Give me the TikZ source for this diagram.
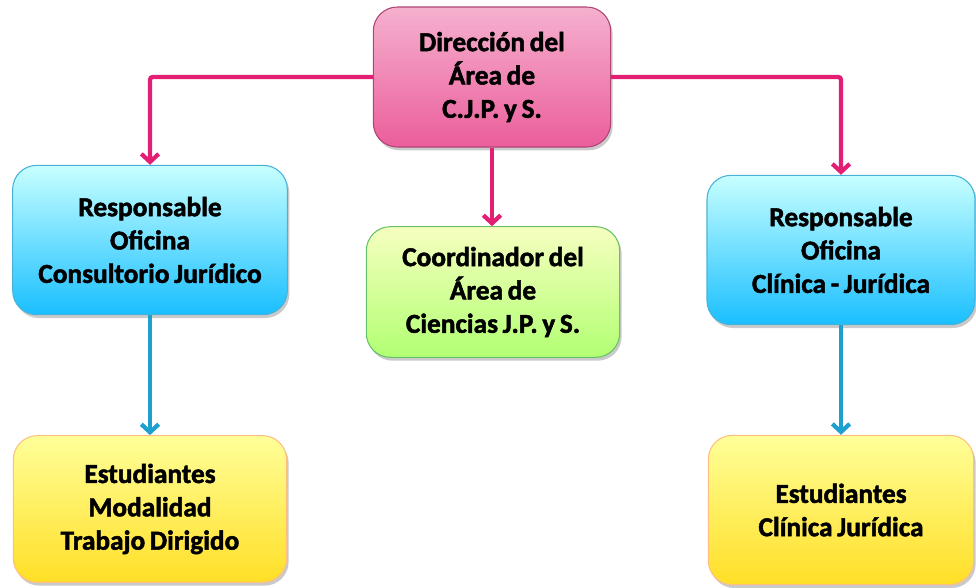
\documentclass[tikz,border=0pt]{standalone}
\usepackage{fontspec}
\setmainfont{Carlito}[BoldFeatures={FakeBold=1.8}]
\usepackage{tikz}
\usetikzlibrary{arrows.meta,shadows,calc}

\definecolor{rosa}{HTML}{E31F74}
\definecolor{celeste}{HTML}{1D9FD0}
\newcommand{\fuentecaja}{\fontsize{20.5}{25}\selectfont\bfseries\spaceskip=0.17em plus 0.05em\relax}

\tikzset{
  caja/.style={rectangle, rounded corners=18pt, align=center, line width=0.8pt,
    font=\fuentecaja,
    drop shadow={shadow xshift=1.5pt, shadow yshift=-2.5pt, opacity=.35, fill=black!60}},
  cajarosa/.style={caja, draw=rosa!70!black!80, top color=rosa!35, bottom color=rosa!72},
  cajaceleste/.style={caja, draw=celeste!80, top color=cyan!22, bottom color=cyan!72!blue!90},
  cajaverde/.style={caja, draw=green!60!black!60, top color=green!15!yellow!25, bottom color=green!55!yellow!55},
  cajaamarilla/.style={caja, draw=orange!50, top color=yellow!40, bottom color=yellow!70!orange!85},
  flecharosa/.style={draw=rosa, line width=3.2pt, -{Straight Barb[length=6pt,width=13pt]}},
  flechaceleste/.style={draw=celeste, line width=3.2pt, -{Straight Barb[length=6pt,width=13pt]}}
}

\begin{document}
\begin{tikzpicture}[x=0.75pt,y=-0.75pt]
\useasboundingbox (0,0) rectangle (976,587);

\node[cajarosa, minimum width=178pt, minimum height=105pt] (dir) at (492,77)
  {Dirección del\\ Área de\\ C.J.P. y S.};
\node[cajaceleste, minimum width=206pt, minimum height=112pt] (resp1) at (150,240)
  {Responsable\\ Oficina\\ Consultorio Jurídico};
\node[cajaverde, minimum width=190pt, minimum height=98pt] (coord) at (493,292)
  {Coordinador del\\ Área de\\ Ciencias J.P. y S.};
\node[cajaceleste, minimum width=201pt, minimum height=112pt] (resp2) at (841,250)
  {Responsable\\ Oficina\\ Clínica - Jurídica};
\node[cajaamarilla, minimum width=205pt, minimum height=110pt] (est1) at (150,509)
  {Estudiantes\\ Modalidad\\ Trabajo Dirigido};
\node[cajaamarilla, minimum width=199pt, minimum height=112pt] (est2) at (841,510)
  {Estudiantes\\ Clínica Jurídica};

% conectores
\draw[flecharosa, rounded corners=2pt] (dir.west) -| (resp1.north);
\draw[flecharosa, rounded corners=2pt] (dir.east) -| (resp2.north);
\draw[flecharosa] (dir.south) -- (dir.south |- coord.north);
\draw[flechaceleste] (resp1.south) -- (est1.north);
\draw[flechaceleste] (resp2.south) -- (est2.north);
\end{tikzpicture}
\end{document}
